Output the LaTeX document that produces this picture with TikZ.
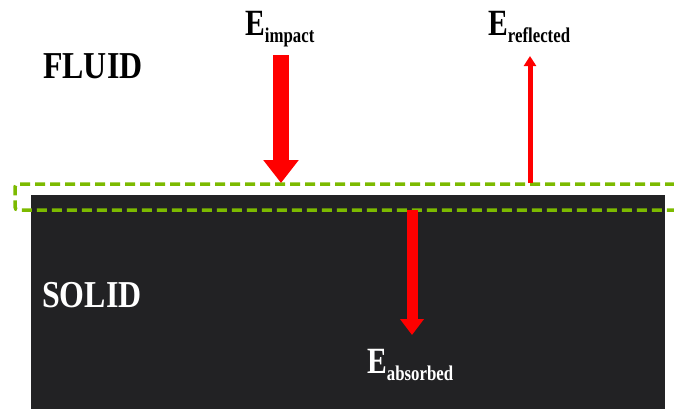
\documentclass[tikz,border=0pt]{standalone}
\usepackage{fontspec}
\setmainfont{Liberation Serif}
\newfontfamily\condfont[FakeStretch=0.8]{Liberation Serif}
\newfontfamily\widefont[FakeStretch=0.84]{Liberation Serif}
\usetikzlibrary{arrows.meta}
\definecolor{solidgray}{RGB}{34,34,36}
\definecolor{limegreen}{RGB}{124,186,0}
\definecolor{arrowred}{RGB}{255,0,0}
\tikzset{
  lbl/.style={inner sep=0pt, anchor=base west, font=\condfont\bfseries\fontsize{37}{37}\selectfont},
  region/.style={inner sep=0pt, anchor=base west, font=\widefont\bfseries\fontsize{38}{38}\selectfont},
  bigarrow/.style={arrowred, line width=#1},
}
\newcommand{\Elabel}[1]{E\raisebox{-7pt}{\fontsize{21}{21}\selectfont #1}}
\begin{document}
\begin{tikzpicture}[x=1pt,y=-1pt]
\useasboundingbox (0,0) rectangle (674,408);
\clip (0,0) rectangle (674,408);
% solid block
\fill[solidgray] (31,195) rectangle (665,420);
% interface box
\draw[limegreen, line width=3.5pt, dash pattern=on 10pt off 5pt, rounded corners=3pt]
  (690,184) -- (15,184) -- (15,210) -- (690,210);
% texts
\node[region] (fluid) at (43,78) {FLUID};
\node[region, white] (solid) at (42,307) {SOLID};
\node[lbl] (eimp) at (245,35) {\Elabel{impact}};
\node[lbl] (eref) at (488,35) {\Elabel{reflected}};
\node[lbl, white] (eabs) at (367,373) {\Elabel{absorbed}};
% arrow coordinates
\coordinate (impS) at (281,55);
\coordinate (impE) at (281,183);
\coordinate (refS) at (530,183);
\coordinate (refE) at (530,56);
\coordinate (absS) at (412,210);
\coordinate (absE) at (412,335);
% arrows
\draw[bigarrow=16pt, -{Triangle[width=34pt,length=23pt]}] (impS) -- (impE);
\draw[bigarrow=5pt, -{Triangle[width=12pt,length=10pt]}] (refS) -- (refE);
\draw[bigarrow=11pt, -{Triangle[width=23pt,length=16pt]}] (absS) -- (absE);
\end{tikzpicture}
\end{document}
